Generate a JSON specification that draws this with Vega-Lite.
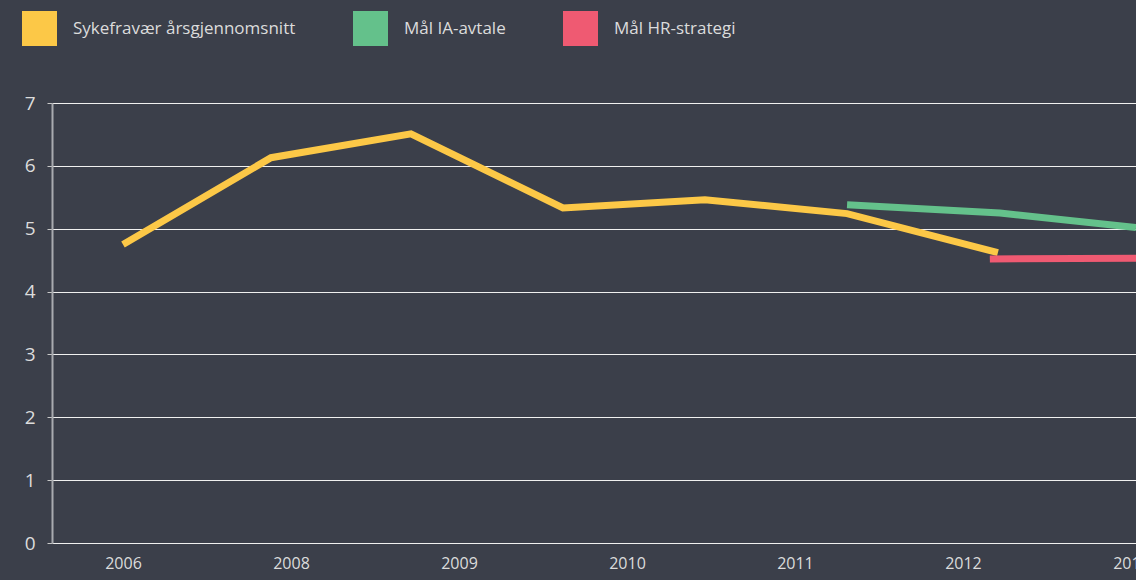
{
  "$schema": "https://vega.github.io/schema/vega-lite/v6.json",
  "width": 1084,
  "height": 440,
  "autosize": {"type": "none"},
  "padding": {"left": 52, "top": 103, "right": 0, "bottom": 37},
  "background": "#3b3f4a",
  "config": {
    "view": {"stroke": null},
    "font": "Open Sans",
    "axis": {"labelColor": "#dcdcdc", "labelFont": "Open Sans", "labelFontSize": 17, "titleColor": "#dcdcdc"},
    "legend": {"labelColor": "#dcdcdc", "labelFont": "Open Sans", "labelFontSize": 17}
  },
  "data": {
    "values": [
      {"series": "Sykefravær årsgjennomsnitt", "t": 0, "value": 4.75},
      {"series": "Sykefravær årsgjennomsnitt", "t": 0.881, "value": 6.13},
      {"series": "Sykefravær årsgjennomsnitt", "t": 1.714, "value": 6.51},
      {"series": "Sykefravær årsgjennomsnitt", "t": 2.619, "value": 5.33},
      {"series": "Sykefravær årsgjennomsnitt", "t": 3.464, "value": 5.46},
      {"series": "Sykefravær årsgjennomsnitt", "t": 4.31, "value": 5.24},
      {"series": "Sykefravær årsgjennomsnitt", "t": 5.208, "value": 4.62},
      {"series": "Mål IA-avtale", "t": 4.31, "value": 5.38},
      {"series": "Mål IA-avtale", "t": 5.22, "value": 5.25},
      {"series": "Mål IA-avtale", "t": 6.03, "value": 5.02},
      {"series": "Mål HR-strategi", "t": 5.16, "value": 4.52},
      {"series": "Mål HR-strategi", "t": 6.03, "value": 4.53}
    ]
  },
  "mark": {"type": "line", "strokeWidth": 7, "strokeCap": "butt", "strokeJoin": "miter", "clip": true},
  "encoding": {
    "x": {
      "field": "t",
      "type": "quantitative",
      "scale": {"domain": [-0.4226, 6.03], "nice": false, "zero": false},
      "axis": {
        "title": null,
        "values": [0, 1, 2, 3, 4, 5, 6],
        "labelExpr": "['2006','2008','2009','2010','2011','2012','2013'][datum.value]",
        "grid": false,
        "domain": false,
        "ticks": false,
        "labelPadding": 20,
        "labelFontSize": 16,
        "labelBaseline": "middle",
        "labelOverlap": false,
        "labelFlush": false
      }
    },
    "y": {
      "field": "value",
      "type": "quantitative",
      "scale": {"domain": [0, 7], "nice": false},
      "axis": {
        "title": null,
        "values": [0, 1, 2, 3, 4, 5, 6, 7],
        "grid": true,
        "gridColor": "#f0f0f0",
        "gridOpacity": 1,
        "gridWidth": 1.2,
        "domain": true,
        "domainColor": "#a9abb0",
        "domainWidth": 2,
        "ticks": true,
        "tickColor": "#c8c8c8",
        "tickSize": 5,
        "labelPadding": 12,
        "labelFontSize": 19
      }
    },
    "color": {
      "field": "series",
      "type": "nominal",
      "scale": {
        "domain": ["Sykefravær årsgjennomsnitt", "Mål IA-avtale", "Mål HR-strategi"],
        "range": ["#fcc847", "#64c18b", "#ef5a72"]
      },
      "legend": {
        "title": null,
        "orient": "none",
        "legendX": -30,
        "legendY": -92,
        "direction": "horizontal",
        "symbolType": "square",
        "symbolSize": 1225,
        "symbolStrokeWidth": 0,
        "labelOffset": 16,
        "labelLimit": 0,
        "columnPadding": 57,
        "encode": {
          "symbols": {"update": {"fill": {"scale": "color", "field": "value"}, "fillOpacity": {"value": 1}, "stroke": {"value": "transparent"}}}
        }
      }
    }
  }
}
